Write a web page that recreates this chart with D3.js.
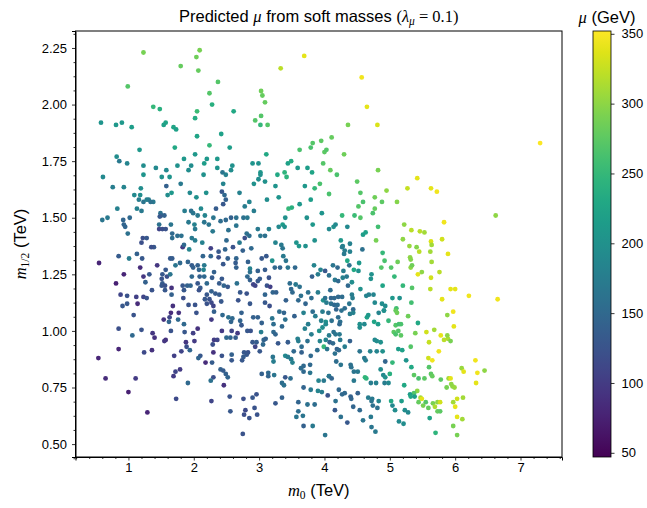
<!DOCTYPE html>
<html>
<head>
<meta charset="utf-8">
<script src="https://cdn.jsdelivr.net/npm/d3@7"></script>
<style>
  body { margin: 0; background: #fff; }
  svg text { font-family: "Liberation Sans", "DejaVu Sans", sans-serif; fill: #000; }
  .math { font-family: "Liberation Serif", "DejaVu Serif", serif; }
</style>
</head>
<body>
<div id="chart"></div>
<script>
// m0 (TeV), m1/2 (TeV) and predicted mu (GeV)
const m0 = [
  1.23,2.09,2.04,1.80,2.07,0.99,2.24,1.38,1.48,2.05,
  0.58,0.81,0.90,1.05,1.57,1.54,1.69,1.73,2.02,2.05,
  2.24,1.17,1.71,0.82,0.86,0.98,1.23,1.42,1.58,1.75,
  1.85,2.02,1.96,1.92,2.16,2.20,3.69,3.33,2.37,2.28,
  3.03,3.05,3.09,3.03,2.94,3.02,3.13,2.61,2.42,2.55,
  2.36,2.36,2.59,2.57,2.44,2.90,2.99,3.11,3.02,3.44,
  3.49,3.39,3.59,3.74,3.62,3.79,3.82,3.95,4.00,4.03,
  3.98,3.81,4.57,4.65,4.81,4.36,4.11,4.30,4.09,4.82,
  7.30,0.61,1.23,1.51,1.63,2.15,0.76,0.93,1.19,1.09,
  1.18,1.58,1.80,1.66,1.60,1.94,2.04,2.19,1.16,1.23,
  1.28,1.31,1.38,1.34,0.83,1.13,1.20,1.49,1.50,1.86,
  1.96,1.99,2.11,2.06,2.17,0.60,0.68,0.92,1.02,0.93,
  0.95,1.48,1.55,1.47,1.65,1.92,2.01,2.16,0.99,1.47,
  1.52,1.57,2.02,1.67,1.67,1.75,1.81,1.97,2.02,2.13,
  1.22,1.28,1.20,1.39,1.35,1.83,1.85,1.93,0.85,1.01,
  1.13,1.21,0.55,1.44,1.64,1.67,1.57,1.72,1.79,1.91,
  1.97,1.99,2.06,2.14,2.16,2.08,2.15,1.18,0.93,1.23,
  1.32,1.52,1.59,1.64,1.51,1.97,2.09,2.16,0.81,1.26,
  1.52,1.51,1.56,1.66,1.83,1.90,1.95,2.06,2.10,2.20,
  1.36,1.56,1.85,2.08,0.88,0.98,1.66,1.12,1.23,1.28,
  1.84,2.17,2.20,0.98,0.91,1.14,1.68,1.92,2.02,2.20,
  1.08,1.54,1.65,1.77,1.63,1.62,1.76,1.85,2.04,0.85,
  1.06,1.20,1.37,1.40,1.65,1.86,1.99,2.06,1.57,1.55,
  1.88,2.01,1.89,1.94,0.85,1.24,1.36,1.70,1.81,2.10,
  2.07,0.54,2.18,1.79,1.72,1.69,0.65,1.11,1.91,1.00,
  1.73,1.29,2.49,3.02,3.28,3.42,2.45,2.92,2.99,3.09,
  3.93,3.70,3.85,3.25,2.43,2.47,2.70,2.49,2.45,3.12,
  3.30,2.85,2.78,2.34,3.45,3.50,3.62,3.79,3.96,2.92,
  2.30,2.41,2.49,2.57,2.65,2.76,2.82,3.40,3.36,3.30,
  3.39,3.73,3.82,2.23,2.29,2.53,2.65,2.98,3.15,2.81,
  2.85,3.02,3.09,2.78,2.70,2.50,3.25,3.34,3.36,3.57,
  3.61,3.71,3.85,2.26,2.38,2.48,2.60,2.75,2.88,2.26,
  2.38,2.52,2.65,3.04,3.11,3.37,3.20,3.41,2.45,2.64,
  2.83,2.65,3.09,3.24,3.32,3.44,3.55,3.84,2.31,2.86,
  2.86,2.98,3.90,3.94,3.81,2.28,2.43,2.82,2.86,2.98,
  2.91,2.94,3.01,3.15,3.12,3.17,3.47,3.56,3.62,3.49,
  2.66,2.46,2.52,2.39,2.27,2.33,2.39,2.71,2.81,3.09,
  3.21,3.26,3.51,3.64,3.75,3.90,3.98,2.24,2.27,2.30,
  2.42,2.68,2.86,3.09,3.41,3.60,3.71,3.80,3.16,4.03,
  2.31,2.27,2.44,2.53,2.59,2.57,2.73,2.71,2.73,2.91,
  2.98,3.04,3.20,3.22,3.31,3.38,3.40,3.35,3.54,3.68,
  3.82,3.97,3.86,3.95,4.02,3.75,3.70,3.80,3.92,3.97,
  4.02,2.43,2.58,2.67,2.82,2.87,3.03,3.22,3.25,2.31,
  2.36,2.29,2.50,2.56,2.64,2.90,2.96,2.94,3.07,3.10,
  3.06,3.29,3.44,3.59,3.60,3.65,3.74,3.89,3.93,3.99,
  4.02,2.30,2.43,2.58,2.58,2.77,2.83,2.81,2.76,2.74,
  3.01,3.21,3.22,3.40,3.44,3.49,3.51,3.53,3.65,3.79,
  2.28,2.41,2.45,2.49,2.52,2.30,2.26,2.46,3.04,3.14,
  3.14,3.23,3.40,3.35,3.38,3.48,3.64,3.68,3.78,3.68,
  3.78,3.91,3.99,4.07,3.68,3.79,3.90,3.96,2.27,2.55,
  2.76,2.90,2.96,2.93,3.35,3.25,3.60,3.74,3.85,2.56,
  2.79,2.77,2.85,2.97,3.60,3.57,3.67,3.68,3.82,2.75,
  4.01,4.19,4.50,5.42,4.07,4.55,4.95,5.27,5.63,5.72,
  4.59,4.77,4.88,5.11,4.52,4.77,4.74,4.46,4.27,4.55,
  4.07,4.14,4.17,4.35,4.82,5.22,5.83,5.33,5.46,5.53,
  4.59,4.63,4.25,4.79,5.20,5.63,5.80,4.28,4.27,4.39,
  5.30,5.41,5.64,4.31,4.30,4.39,4.58,5.45,5.62,5.89,
  4.89,4.35,4.53,4.92,5.12,5.31,5.32,5.64,4.13,4.20,
  4.38,4.45,4.52,4.87,5.02,5.32,5.34,5.76,4.01,4.29,
  5.43,5.49,4.72,4.71,4.07,4.16,4.21,4.28,4.34,4.36,
  4.42,5.07,5.63,4.89,5.20,5.34,5.62,5.80,4.55,4.09,
  4.01,4.10,4.15,4.21,4.27,4.42,4.43,4.64,4.68,4.75,
  4.77,5.04,5.15,5.33,4.10,4.15,4.20,4.38,4.31,4.88,
  4.93,5.10,4.18,4.44,4.91,4.06,4.26,4.39,4.44,4.21,
  4.24,4.23,4.11,4.54,4.54,4.61,4.65,4.67,4.76,4.83,
  4.82,4.91,4.98,5.09,5.11,5.28,5.43,5.09,5.14,5.17,
  5.06,5.13,5.17,5.09,5.39,5.56,5.68,5.78,5.83,5.60,
  5.89,4.07,4.14,4.17,4.23,4.24,4.39,4.08,4.13,4.04,
  4.19,4.22,4.31,4.54,4.70,4.80,4.86,4.77,4.80,4.89,
  5.13,5.19,5.32,5.59,5.65,5.75,4.16,4.18,4.25,4.61,
  4.63,4.93,5.04,5.25,5.33,5.60,4.40,4.41,4.51,4.45,
  4.86,4.90,4.93,5.00,4.62,4.64,5.37,5.44,5.53,5.63,
  5.65,5.78,5.90,4.07,4.11,4.45,4.98,4.71,4.79,4.92,
  5.22,5.42,5.37,5.31,5.32,5.38,5.47,5.49,5.55,5.44,
  5.51,5.66,5.73,5.77,5.69,5.73,5.77,5.59,4.05,4.17,
  4.16,4.27,4.22,4.31,4.40,4.41,4.51,4.67,4.73,4.83,
  4.72,4.74,4.81,5.02,5.18,5.04,5.08,5.23,5.28,4.44,
  4.54,4.25,4.35,4.59,4.71,4.72,4.78,5.14,5.21,5.61,
  5.70,6.62,5.93,6.00,6.21,6.65,5.97,5.88,5.98,5.88,
  5.93,6.31,6.10,6.13,6.45,6.34,5.93,6.32,5.87,5.94,
  5.96,5.99,6.12,6.03,5.97,6.00,6.03,6.11,5.97,6.03
];

const m12 = [
  2.23,2.24,2.21,2.17,2.15,2.08,2.05,1.99,1.98,1.97,
  1.92,1.91,1.92,1.90,1.92,1.91,1.90,1.89,1.94,1.86,
  1.82,1.80,1.81,1.77,1.75,1.74,1.73,1.72,1.71,1.73,
  1.76,1.78,1.73,1.71,1.74,1.76,2.215,2.16,2.10,2.00,
  2.06,2.04,2.01,1.95,1.93,1.91,1.91,1.97,1.87,1.81,
  1.76,1.72,1.73,1.71,1.70,1.74,1.74,1.78,1.70,1.74,
  1.75,1.70,1.72,1.72,1.80,1.81,1.83,1.84,1.79,1.80,
  1.74,1.70,2.12,1.99,1.91,1.91,1.855,1.78,1.71,1.71,
  1.83,1.68,1.69,1.68,1.68,1.69,1.635,1.635,1.63,1.60,
  1.60,1.64,1.65,1.61,1.60,1.61,1.59,1.61,1.58,1.57,
  1.58,1.58,1.57,1.57,1.54,1.54,1.53,1.52,1.51,1.53,
  1.53,1.52,1.54,1.51,1.51,1.49,1.50,1.49,1.50,1.47,
  1.46,1.505,1.51,1.47,1.47,1.48,1.47,1.48,1.43,1.45,
  1.45,1.45,1.45,1.43,1.41,1.42,1.42,1.41,1.40,1.39,
  1.41,1.41,1.39,1.37,1.37,1.37,1.38,1.36,1.33,1.32,
  1.34,1.32,1.30,1.29,1.32,1.32,1.27,1.29,1.30,1.305,
  1.29,1.28,1.29,1.33,1.29,1.27,1.27,1.28,1.25,1.24,
  1.25,1.25,1.24,1.25,1.23,1.24,1.24,1.24,1.21,1.215,
  1.21,1.20,1.20,1.19,1.20,1.20,1.20,1.21,1.19,1.21,
  1.18,1.18,1.18,1.18,1.16,1.155,1.16,1.15,1.15,1.145,
  1.145,1.14,1.16,1.12,1.11,1.12,1.11,1.115,1.115,1.12,
  1.07,1.05,1.08,1.08,1.06,1.04,1.05,1.03,1.08,1.01,
  0.98,1.005,0.99,0.97,1.00,0.995,0.99,1.01,0.96,0.955,
  0.95,0.955,0.93,0.915,0.92,0.905,0.915,0.89,0.91,0.89,
  0.88,0.88,0.86,0.83,0.82,0.80,0.79,0.79,0.77,0.73,
  0.70,0.64,1.69,1.69,1.69,1.68,1.65,1.65,1.67,1.66,
  1.65,1.64,1.63,1.64,1.615,1.60,1.61,1.58,1.56,1.58,
  1.59,1.57,1.55,1.54,1.54,1.545,1.56,1.58,1.52,1.53,
  1.50,1.485,1.49,1.50,1.50,1.50,1.50,1.50,1.47,1.46,
  1.46,1.50,1.47,1.47,1.44,1.445,1.465,1.45,1.45,1.43,
  1.42,1.42,1.42,1.41,1.39,1.40,1.39,1.38,1.365,1.39,
  1.375,1.375,1.40,1.365,1.35,1.36,1.37,1.355,1.365,1.33,
  1.325,1.32,1.32,1.32,1.33,1.33,1.31,1.31,1.295,1.30,
  1.305,1.28,1.27,1.28,1.28,1.28,1.28,1.29,1.26,1.275,
  1.26,1.265,1.25,1.27,1.24,1.235,1.23,1.24,1.225,1.22,
  1.205,1.20,1.23,1.235,1.20,1.195,1.21,1.205,1.195,1.185,
  1.21,1.20,1.195,1.21,1.175,1.165,1.16,1.17,1.165,1.16,
  1.17,1.17,1.17,1.155,1.17,1.17,1.135,1.14,1.125,1.11,
  1.13,1.135,1.12,1.125,1.135,1.135,1.12,1.145,1.11,1.125,
  1.085,1.05,1.07,1.06,1.055,1.04,1.08,1.045,1.025,1.06,
  1.06,1.035,1.055,1.03,1.085,1.08,1.05,1.02,1.065,1.08,
  1.085,1.085,1.065,1.045,1.04,1.03,1.01,0.985,1.00,1.015,
  1.03,1.00,1.00,0.99,1.00,1.00,0.995,0.995,0.985,0.96,
  0.96,0.94,0.97,0.97,0.97,0.95,0.95,0.93,0.96,0.965,
  0.94,0.945,0.95,0.965,0.955,0.93,0.955,0.915,0.955,0.93,
  0.96,0.905,0.89,0.895,0.87,0.905,0.905,0.895,0.885,0.87,
  0.91,0.885,0.865,0.89,0.885,0.875,0.86,0.91,0.905,0.89,
  0.86,0.83,0.825,0.81,0.795,0.795,0.78,0.76,0.81,0.815,
  0.80,0.805,0.795,0.77,0.76,0.79,0.835,0.845,0.85,0.82,
  0.815,0.78,0.78,0.80,0.75,0.74,0.735,0.73,0.69,0.71,
  0.70,0.705,0.72,0.66,0.705,0.68,0.685,0.675,0.675,0.645,
  0.65,0.63,0.615,0.63,0.645,0.62,0.625,0.58,0.58,0.545,
  0.54,1.69,1.66,1.675,1.605,1.61,1.62,1.63,1.63,1.615,
  1.57,1.59,1.57,1.57,1.55,1.54,1.52,1.51,1.51,1.50,
  1.45,1.46,1.47,1.46,1.46,1.47,1.48,1.445,1.44,1.435,
  1.425,1.435,1.40,1.40,1.405,1.395,1.405,1.375,1.37,1.385,
  1.375,1.37,1.38,1.355,1.34,1.35,1.36,1.35,1.35,1.34,
  1.345,1.31,1.30,1.31,1.305,1.325,1.315,1.305,1.29,1.28,
  1.29,1.27,1.265,1.28,1.28,1.28,1.29,1.26,1.265,1.265,
  1.25,1.26,1.25,1.23,1.245,1.225,1.22,1.235,1.24,1.20,
  1.215,1.24,1.235,1.20,1.20,1.19,1.185,1.14,1.185,1.18,
  1.145,1.145,1.145,1.15,1.15,1.16,1.145,1.155,1.16,1.16,
  1.125,1.145,1.145,1.125,1.12,1.115,1.115,1.12,1.10,1.12,
  1.11,1.10,1.095,1.095,1.09,1.08,1.09,1.075,1.08,1.06,
  1.04,1.03,1.045,1.03,1.015,1.03,1.06,1.07,1.04,1.08,
  1.03,1.09,1.045,1.09,1.08,1.065,1.035,1.025,1.03,1.03,
  0.995,1.00,0.98,0.985,0.99,0.995,1.005,0.98,0.96,0.95,
  0.965,0.98,0.995,0.985,0.985,0.96,0.955,0.95,0.945,0.92,
  0.92,0.915,0.93,0.91,0.91,0.91,0.95,0.96,0.955,0.91,
  0.92,0.915,0.93,0.88,0.87,0.91,0.90,0.865,0.85,0.88,
  0.87,0.865,0.86,0.87,0.84,0.84,0.85,0.84,0.82,0.82,
  0.83,0.805,0.795,0.81,0.795,0.79,0.805,0.79,0.79,0.81,
  0.80,0.785,0.79,0.80,0.79,0.78,0.77,0.77,0.77,0.77,
  0.76,0.735,0.725,0.72,0.71,0.71,0.705,0.70,0.685,0.685,
  0.67,0.68,0.685,0.685,0.665,0.645,0.645,0.66,0.715,0.69,
  0.65,0.72,0.74,0.725,0.71,0.70,0.725,0.705,0.70,0.69,
  0.69,0.67,0.66,0.69,0.69,0.67,0.65,0.65,0.64,0.665,
  0.65,0.62,0.595,0.605,0.62,0.575,0.555,0.60,0.59,0.615,
  0.55,1.51,1.185,1.185,1.155,1.14,1.085,1.07,1.02,0.98,
  0.955,0.87,0.835,0.82,0.825,0.815,0.79,0.77,0.75,0.765,
  0.755,0.75,0.705,0.70,0.685,0.665,0.62,0.61,0.58,0.54
];

const mu = [
  290,290,285,280,280,270,270,250,240,255,
  205,210,210,215,225,220,225,220,235,225,
  250,210,230,195,170,185,195,190,190,200,
  210,210,195,195,215,210,340,320,270,240,
  285,280,280,270,270,250,270,230,220,215,
  210,205,200,195,165,205,200,230,210,220,
  235,245,210,215,265,265,270,275,275,270,
  270,225,345,340,335,290,280,285,280,290,
  350,190,205,200,205,200,175,185,195,190,
  195,140,170,210,195,190,200,200,175,165,
  180,175,170,160,180,180,170,160,150,175,
  160,165,190,170,185,165,170,145,150,145,
  145,130,140,160,165,170,180,165,160,110,
  120,125,170,150,155,155,160,170,175,180,
  120,130,120,130,120,100,150,185,135,175,
  140,130,80,95,135,135,130,165,150,145,
  135,140,140,145,170,145,185,85,80,95,
  130,130,120,165,125,150,140,150,75,140,
  135,130,125,90,130,140,145,130,135,150,
  125,130,130,125,110,125,140,105,110,125,
  120,130,130,130,130,85,90,125,125,125,
  125,90,85,90,110,145,150,150,125,120,
  150,125,95,90,125,130,105,90,90,95,
  95,100,120,145,80,115,90,105,110,130,
  145,80,85,100,110,100,85,100,150,75,
  115,80,180,200,230,245,185,200,195,200,
  265,210,250,205,130,150,180,140,130,195,
  205,185,175,135,250,240,210,215,205,175,
  165,155,150,140,160,160,170,200,215,190,
  200,200,210,165,170,160,165,170,180,160,
  155,165,160,120,170,150,185,170,165,205,
  210,200,200,105,130,145,125,140,150,145,
  120,140,145,130,130,170,200,165,130,135,
  140,140,135,150,145,165,150,185,140,180,
  160,140,175,185,140,135,130,150,140,130,
  110,110,135,125,125,105,155,170,160,150,
  160,145,130,135,140,135,135,130,125,145,
  145,140,150,160,160,175,200,125,115,110,
  130,125,130,130,140,150,145,155,120,175,
  140,100,150,160,150,145,140,145,130,140,
  140,140,165,155,155,145,160,150,140,180,
  155,175,175,180,200,175,180,175,200,195,
  190,100,110,100,130,125,175,150,145,100,
  110,120,150,145,135,130,135,110,145,140,
  150,130,135,180,175,155,160,155,185,250,
  185,90,125,140,130,130,125,130,135,130,
  130,165,175,190,175,170,180,150,140,150,
  135,140,135,140,145,120,160,90,140,150,
  145,165,130,155,160,155,155,150,150,150,
  165,185,170,190,145,170,185,175,110,125,
  120,130,125,125,140,130,145,160,155,130,
  115,120,125,125,155,165,165,140,170,125,
  165,265,275,340,265,270,300,325,340,345,
  265,285,275,295,270,280,265,255,250,270,
  190,200,190,190,260,300,345,320,320,310,
  215,220,210,290,300,335,330,180,175,180,
  305,295,310,175,170,180,160,320,310,340,
  250,230,210,265,285,300,295,310,165,150,
  160,230,200,270,270,300,285,320,130,175,
  340,300,200,200,160,170,150,180,170,150,
  195,250,330,225,250,270,320,340,200,155,
  160,145,150,150,155,175,175,185,180,185,
  190,210,200,260,160,150,155,165,155,195,
  195,260,145,150,190,160,160,175,180,155,
  160,150,160,200,195,190,220,210,225,185,
  215,200,250,280,285,285,230,270,260,265,
  275,270,275,265,290,330,310,340,320,325,
  315,175,160,165,170,170,140,140,150,165,
  140,150,175,165,185,185,200,190,195,200,
  215,220,270,330,345,345,160,155,165,170,
  175,145,250,205,230,270,160,160,170,165,
  195,190,200,240,250,245,275,265,275,275,
  280,275,310,165,145,170,190,175,180,175,
  230,300,270,215,230,215,310,340,270,280,
  290,290,300,330,315,280,275,280,125,160,
  130,150,150,150,140,145,140,175,170,185,
  165,160,160,230,215,190,195,195,190,145,
  150,160,130,165,170,165,170,190,195,220,
  245,300,340,340,345,345,345,300,340,300,
  290,345,305,340,300,345,340,340,290,300,
  300,305,310,330,310,340,340,310,290,290
];

const xTicks = [1, 2, 3, 4, 5, 6, 7];
const yTicks = [0.50, 0.75, 1.00, 1.25, 1.50, 1.75, 2.00, 2.25];
const cTicks = [50, 100, 150, 200, 250, 300, 350];

const W = 647, H = 508;
const plot = {left: 75.5, right: 562, top: 31, bottom: 457};
const cbar = {left: 593, right: 611};
const tickFont = "Liberation Sans, DejaVu Sans, sans-serif";

const svg = d3.select("#chart").append("svg")
    .attr("width", W)
    .attr("height", H);

const x = d3.scaleLinear().domain([0.19, 7.635]).range([plot.left, plot.right]);
const y = d3.scaleLinear().domain([0.443, 2.325]).range([plot.bottom, plot.top]);
const c = d3.scaleSequential(d3.interpolateViridis).domain([47, 352]);
const cy = d3.scaleLinear().domain([47, 352]).range([plot.bottom, plot.top]);

const data = m0.map((d, i) => ({m0: d, m12: m12[i], mu: mu[i]}));

// points
svg.append("g")
  .selectAll("circle")
  .data(data)
  .join("circle")
    .attr("cx", d => x(d.m0))
    .attr("cy", d => y(d.m12))
    .attr("r", 2.4)
    .attr("fill", d => c(d.mu));

// axes
const xAxis = svg.append("g")
    .attr("transform", `translate(0,${plot.bottom})`)
    .call(d3.axisBottom(x).tickValues(xTicks).tickFormat(d3.format("d")).tickSizeOuter(0).tickSize(3.5).tickPadding(2));
svg.append("g")
    .attr("transform", `translate(0,${plot.bottom})`)
    .call(d3.axisBottom(x).tickValues(d3.range(0.2, 7.61, 0.2).filter(v => Math.abs(v - Math.round(v)) > 0.01))
      .tickFormat("").tickSizeOuter(0).tickSize(2))
    .call(g => g.select(".domain").remove());

const yAxis = svg.append("g")
    .attr("transform", `translate(${plot.left},0)`)
    .call(d3.axisLeft(y).tickValues(yTicks).tickFormat(d3.format(".2f")).tickSizeOuter(0).tickSize(3.5).tickPadding(5));
svg.append("g")
    .attr("transform", `translate(${plot.left},0)`)
    .call(d3.axisLeft(y).tickValues(d3.range(0.4375, 2.33, 0.0625).filter(v => Math.abs(v * 4 - Math.round(v * 4)) > 0.01))
      .tickFormat("").tickSizeOuter(0).tickSize(2))
    .call(g => g.select(".domain").remove());

svg.selectAll(".tick text").attr("font-size", 13).attr("font-family", tickFont);
svg.selectAll(".tick line").attr("stroke", "#000").attr("stroke-width", 0.8);

// frame
svg.append("rect")
    .attr("x", plot.left).attr("y", plot.top)
    .attr("width", plot.right - plot.left).attr("height", plot.bottom - plot.top)
    .attr("fill", "none").attr("stroke", "#000").attr("stroke-width", 1);

// colorbar
const defs = svg.append("defs");
const grad = defs.append("linearGradient")
    .attr("id", "viridis-grad")
    .attr("x1", 0).attr("y1", 1).attr("x2", 0).attr("y2", 0);
grad.selectAll("stop")
  .data(d3.range(0, 1.0001, 0.05))
  .join("stop")
    .attr("offset", d => d)
    .attr("stop-color", d => d3.interpolateViridis(d));

svg.append("rect")
    .attr("x", cbar.left).attr("y", plot.top)
    .attr("width", cbar.right - cbar.left).attr("height", plot.bottom - plot.top)
    .attr("fill", "url(#viridis-grad)")
    .attr("stroke", "#000").attr("stroke-width", 0.8);

const cAxis = svg.append("g")
    .attr("transform", `translate(${cbar.right},0)`)
    .call(d3.axisRight(cy).tickValues(cTicks).tickSizeOuter(0).tickSize(3.5).tickPadding(7));
cAxis.select(".domain").remove();
cAxis.selectAll(".tick text").attr("font-size", 13).attr("font-family", tickFont);
cAxis.selectAll(".tick line").attr("stroke", "#000").attr("stroke-width", 0.8);

// title
const title = svg.append("text")
    .attr("x", (plot.left + plot.right) / 2)
    .attr("y", 22)
    .attr("text-anchor", "middle")
    .attr("font-size", 16.5);
title.append("tspan").text("Predicted ");
title.append("tspan").attr("class", "math").attr("font-style", "italic").text("μ");
title.append("tspan").text(" from soft masses ");
title.append("tspan").attr("class", "math").text("(");
title.append("tspan").attr("class", "math").attr("font-style", "italic").text("λ");
title.append("tspan").attr("class", "math").attr("font-style", "italic").attr("font-size", 11.5).attr("dy", 3).text("μ");
title.append("tspan").attr("class", "math").attr("dy", -3).text(" = 0.1)");

// colorbar label
const cLabel = svg.append("text")
    .attr("x", 607)
    .attr("y", 23)
    .attr("text-anchor", "middle")
    .attr("font-size", 16.5);
cLabel.append("tspan").attr("class", "math").attr("font-style", "italic").text("μ");
cLabel.append("tspan").text(" (GeV)");

// x label
const xLabel = svg.append("text")
    .attr("x", (plot.left + plot.right) / 2)
    .attr("y", 496)
    .attr("text-anchor", "middle")
    .attr("font-size", 16.5);
xLabel.append("tspan").attr("class", "math").attr("font-style", "italic").text("m");
xLabel.append("tspan").attr("class", "math").attr("font-size", 11.5).attr("dy", 3).text("0");
xLabel.append("tspan").attr("dy", -3).text(" (TeV)");

// y label
const yLabel = svg.append("text")
    .attr("transform", `translate(26,${(plot.top + plot.bottom) / 2}) rotate(-90)`)
    .attr("text-anchor", "middle")
    .attr("font-size", 16.5);
yLabel.append("tspan").attr("class", "math").attr("font-style", "italic").text("m");
yLabel.append("tspan").attr("class", "math").attr("font-size", 11.5).attr("dy", 3).text("1/2");
yLabel.append("tspan").attr("dy", -3).text(" (TeV)");
</script>
</body>
</html>
